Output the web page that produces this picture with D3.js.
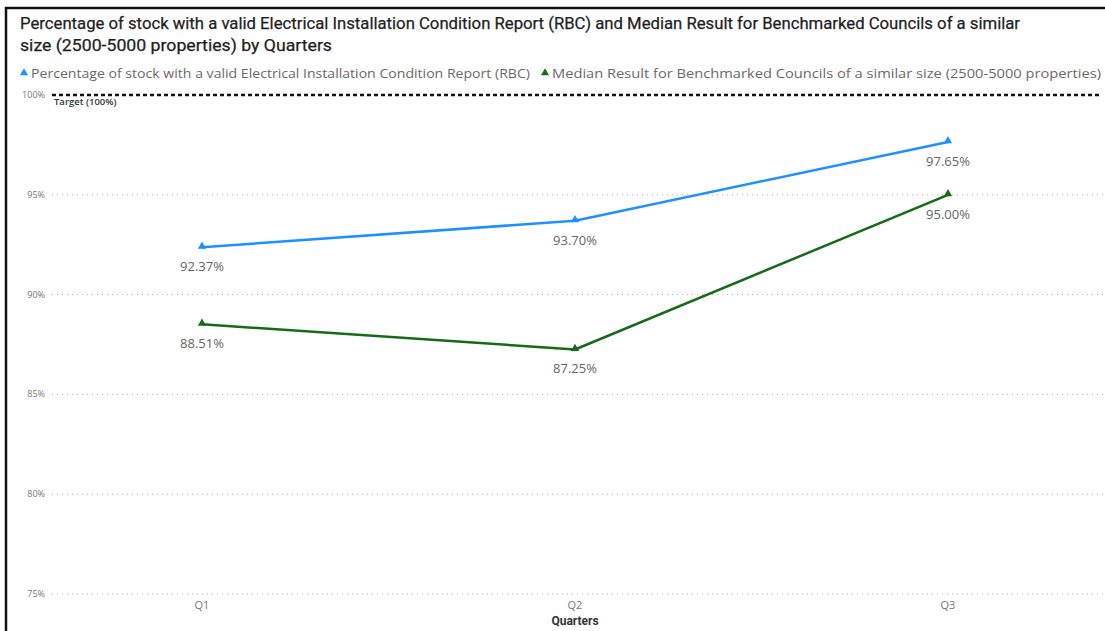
<!DOCTYPE html>
<html>
<head>
<meta charset="utf-8">
<script src="https://cdn.jsdelivr.net/npm/d3@7"></script>
<style>
  html, body { margin: 0; padding: 0; background: #fff; }
  svg { display: block; }
</style>
</head>
<body>
<svg id="chart" width="1105" height="631"></svg>
<script>
// Chart data
const quarters = ["Q1", "Q2", "Q3"];
const validEicrPct = [92.37, 93.70, 97.65];
const benchmarkMedianPct = [88.51, 87.25, 95.00];
const yTicks = [75, 80, 85, 90, 95, 100];
const targetValue = 100;

const seriesNames = [
  "Percentage of stock with a valid Electrical Installation Condition Report (RBC)",
  "Median Result for Benchmarked Councils of a similar size (2500-5000 properties)"
];
const seriesColors = ["#1E90FF", "#156B17"];
const seriesValues = [validEicrPct, benchmarkMedianPct];

const W = 1105, H = 631;
const svg = d3.select("#chart");
const titleFont = "Roboto, 'DejaVu Sans Condensed', sans-serif";
const bodyFont = "'Open Sans', 'Noto Sans', sans-serif";

// Frame border (left and top)
svg.append("path")
  .attr("d", `M6,${H} L6,8 L${W},8`)
  .attr("fill", "none")
  .attr("stroke", "#111")
  .attr("stroke-width", 2.5);

// Title
const titleLines = [
  "Percentage of stock with a valid Electrical Installation Condition Report (RBC) and Median Result for Benchmarked Councils of a similar",
  "size (2500-5000 properties) by Quarters"
];
const titleWidths = [1000, 312];
svg.append("g").selectAll("text")
  .data(titleLines)
  .join("text")
  .attr("x", 20)
  .attr("y", (d, i) => 29 + i * 22)
  .attr("font-family", titleFont)
  .attr("font-size", 16)
  .attr("fill", "#1f1f1f")
  .attr("stroke", "#1f1f1f")
  .attr("stroke-width", 0.25)
  .attr("textLength", (d, i) => titleWidths[i])
  .attr("lengthAdjust", "spacingAndGlyphs")
  .text(d => d);

// Scales
const x = d3.scalePoint().domain(quarters).range([15.5, 1134.5]).padding(0.5);
const y = d3.scaleLinear().domain([75, 100]).range([594, 95]);

// Legend
const legendItems = [
  { x: 20, textW: 510 },
  { x: 541, textW: 560 }
];
const legend = svg.append("g").selectAll("g")
  .data(seriesNames)
  .join("g")
  .attr("transform", (d, i) => `translate(${legendItems[i].x},73)`);
legend.append("path")
  .attr("d", d3.symbol(d3.symbolTriangle, 28))
  .attr("transform", "translate(4,0)")
  .attr("fill", (d, i) => seriesColors[i]);
legend.append("text")
  .attr("x", 11)
  .attr("y", 4.5)
  .attr("font-family", bodyFont)
  .attr("font-size", 13)
  .attr("fill", "#6a6a6a")
  .attr("textLength", (d, i) => legendItems[i].textW - 11)
  .attr("lengthAdjust", "spacingAndGlyphs")
  .text(d => d);

// Y gridlines and labels
const grid = svg.append("g");
grid.selectAll("line")
  .data(yTicks.filter(t => t !== targetValue))
  .join("line")
  .attr("x1", 52).attr("x2", W)
  .attr("y1", d => y(d)).attr("y2", d => y(d))
  .attr("stroke", "#b0b0b0")
  .attr("stroke-width", 1)
  .attr("stroke-dasharray", "1,4");
grid.selectAll("text")
  .data(yTicks)
  .join("text")
  .attr("x", 45)
  .attr("y", d => y(d) + 3)
  .attr("text-anchor", "end")
  .attr("font-family", bodyFont)
  .attr("font-size", 9)
  .attr("fill", "#777")
  .text(d => d + "%");

// Target line
svg.append("line")
  .attr("x1", 52).attr("x2", 1100)
  .attr("y1", y(targetValue)).attr("y2", y(targetValue))
  .attr("stroke", "#111")
  .attr("stroke-width", 2.5)
  .attr("stroke-dasharray", "4,3");
svg.append("text")
  .attr("x", 54)
  .attr("y", y(targetValue) + 10)
  .attr("font-family", bodyFont)
  .attr("font-size", 9.5)
  .attr("font-weight", 600)
  .attr("fill", "#333")
  .text("Target (100%)");

// X axis labels
svg.append("g").selectAll("text")
  .data(quarters)
  .join("text")
  .attr("x", d => x(d))
  .attr("y", 609)
  .attr("text-anchor", "middle")
  .attr("font-family", bodyFont)
  .attr("font-size", 11)
  .attr("fill", "#777")
  .text(d => d);
svg.append("text")
  .attr("x", x("Q2"))
  .attr("y", 625)
  .attr("text-anchor", "middle")
  .attr("font-family", titleFont)
  .attr("font-size", 12)
  .attr("font-weight", "bold")
  .attr("fill", "#333")
  .text("Quarters");

// Series lines, markers and data labels
const line = d3.line().x((d, i) => x(quarters[i])).y(d => y(d));
seriesValues.forEach((vals, si) => {
  const g = svg.append("g");
  g.append("path")
    .datum(vals)
    .attr("d", line)
    .attr("fill", "none")
    .attr("stroke", seriesColors[si])
    .attr("stroke-width", 2.5)
    .attr("stroke-linejoin", "round");
  g.selectAll("path.marker")
    .data(vals)
    .join("path")
    .attr("class", "marker")
    .attr("d", d3.symbol(d3.symbolTriangle, 30))
    .attr("transform", (d, i) => `translate(${x(quarters[i])},${y(d) - 1})`)
    .attr("fill", seriesColors[si]);
  g.selectAll("text")
    .data(vals)
    .join("text")
    .attr("x", (d, i) => x(quarters[i]))
    .attr("y", d => y(d) + 24)
    .attr("text-anchor", "middle")
    .attr("font-family", bodyFont)
    .attr("font-size", 13)
    .attr("fill", "#666")
    .text(d => d.toFixed(2) + "%");
});
</script>
</body>
</html>
